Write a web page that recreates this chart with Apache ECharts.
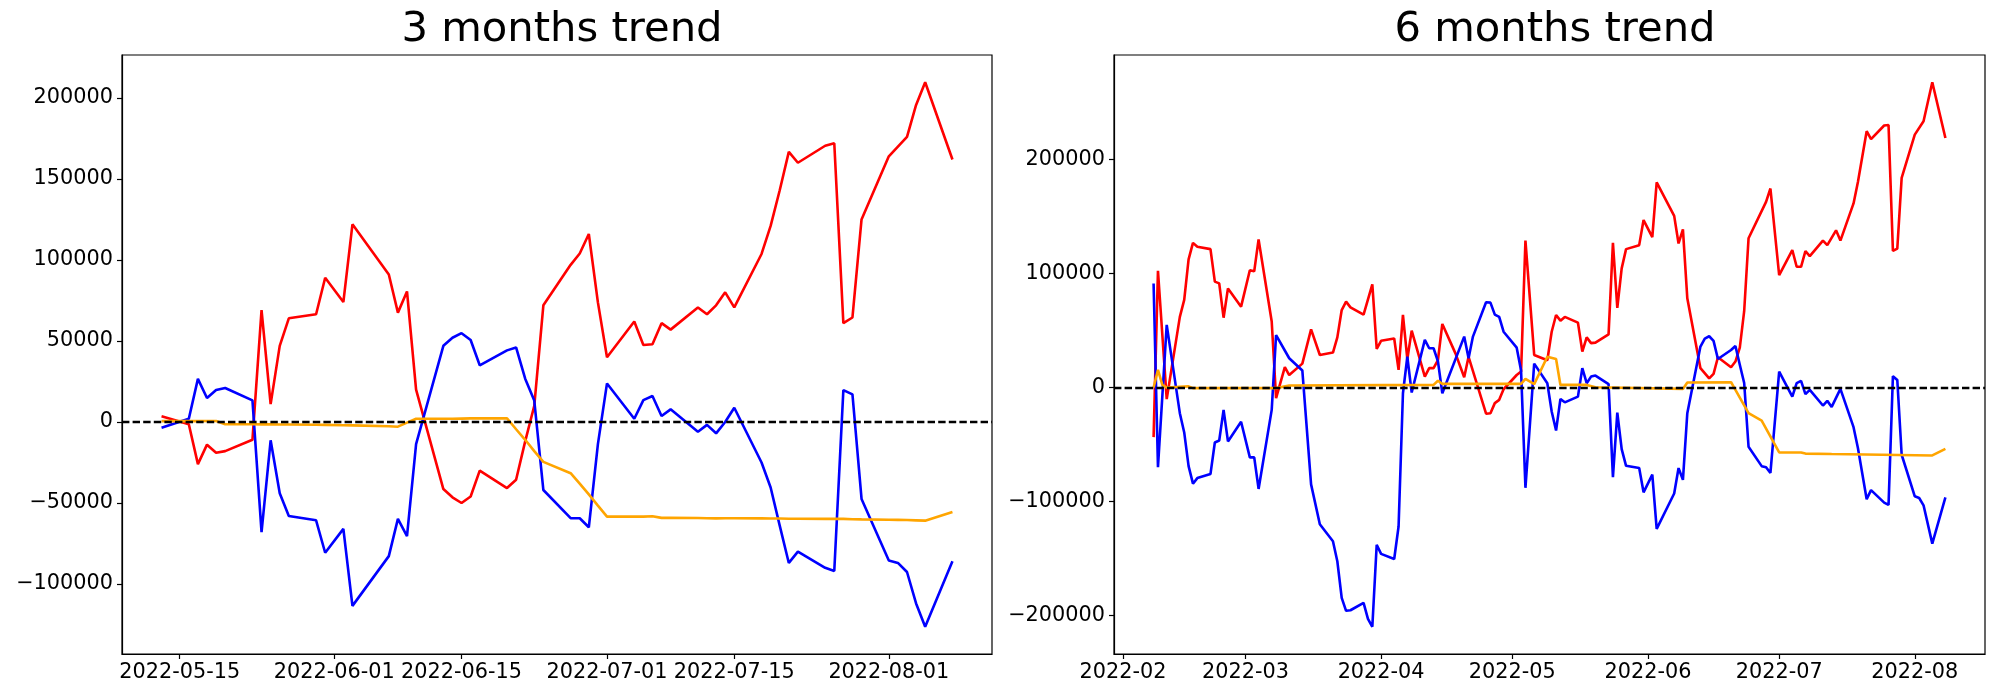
<!DOCTYPE html>
<html>
<head>
<meta charset="utf-8">
<script src="https://cdn.jsdelivr.net/npm/echarts@6/dist/echarts.min.js"></script>
<style>
html,body{margin:0;padding:0;background:#fff;}
#chart{width:2000px;height:700px;}
</style>
</head>
<body>
<div id="chart"></div>
<script>
// ---------- 3 months trend ----------
const dates3 = ['2022-05-13','2022-05-16','2022-05-17','2022-05-18','2022-05-19','2022-05-20','2022-05-23','2022-05-24','2022-05-25','2022-05-26','2022-05-27','2022-05-30','2022-05-31',
'2022-06-02','2022-06-03','2022-06-07','2022-06-08','2022-06-09','2022-06-10','2022-06-13','2022-06-14','2022-06-15','2022-06-16','2022-06-17','2022-06-20','2022-06-21','2022-06-22','2022-06-23','2022-06-24','2022-06-27','2022-06-28','2022-06-29','2022-06-30',
'2022-07-01','2022-07-04','2022-07-05','2022-07-06','2022-07-07','2022-07-08','2022-07-11','2022-07-12','2022-07-13','2022-07-14','2022-07-15','2022-07-18','2022-07-19','2022-07-20','2022-07-21','2022-07-22','2022-07-25','2022-07-26','2022-07-27','2022-07-28','2022-07-29',
'2022-08-01','2022-08-02','2022-08-03','2022-08-04','2022-08-05','2022-08-08'];
const red3 = [3500,-1400,-26000,-14000,-19000,-18000,-11000,69000,11000,47000,64000,66500,89000,
74000,122000,91000,67500,80600,20000,-41400,-46500,-50000,-46000,-30000,-40800,-35700,-12000,10000,72000,97000,104000,116000,73800,
40000,62000,47500,48000,61000,57000,70700,66500,72000,80000,70700,103700,121000,143000,166700,160000,170500,172000,61000,64500,125000,
164000,170000,176000,195700,209700,162000];
const blue3 = [-3500,2000,26600,14800,19700,21000,13300,-68000,-11300,-44000,-58000,-60700,-80700,
-66000,-113500,-82800,-59800,-70500,-13700,47000,52000,54800,50600,35000,44200,46000,26700,13200,-42000,-59400,-59400,-65000,-13700,
23800,2000,13500,16000,3700,7800,-6000,-1800,-7000,0,8800,-25000,-40400,-64000,-87000,-80000,-90000,-92000,19700,17000,-47500,
-85500,-87000,-92600,-112000,-126400,-86000];
const orange3 = [500,500,500,600,600,-1400,-1400,-1500,-1500,-1600,-1600,-1700,-1800,
-2000,-2100,-2600,-2900,-400,2000,2000,2000,2100,2200,2200,2300,-4500,-11000,-18000,-24600,-31600,-38000,-44700,-51600,
-58400,-58400,-58400,-58200,-59200,-59200,-59300,-59400,-59500,-59400,-59400,-59500,-59600,-59600,-59700,-59700,-59800,-59800,-59800,-60000,-60100,
-60300,-60400,-60500,-60700,-60900,-55500];
const xTicks3 = ['2022-05-15','2022-06-01','2022-06-15','2022-07-01','2022-07-15','2022-08-01'];
const xTickLabels3 = ['2022-05-15','2022-06-01','2022-06-15','2022-07-01','2022-07-15','2022-08-01'];
const yTicks3 = [-100000,-50000,0,50000,100000,150000,200000];

// ---------- 6 months trend ----------
const red6Dates = ['2022-02-08','2022-02-09','2022-02-11','2022-02-14','2022-02-15','2022-02-16','2022-02-17','2022-02-18','2022-02-21','2022-02-22','2022-02-23','2022-02-24','2022-02-25','2022-02-28',
'2022-03-02','2022-03-03','2022-03-04','2022-03-07','2022-03-08','2022-03-10','2022-03-11','2022-03-14','2022-03-16','2022-03-18','2022-03-21','2022-03-22','2022-03-23','2022-03-24','2022-03-25','2022-03-28','2022-03-30','2022-03-31',
'2022-04-01','2022-04-04','2022-04-05','2022-04-06','2022-04-07','2022-04-08','2022-04-11','2022-04-12','2022-04-13','2022-04-14','2022-04-15','2022-04-18','2022-04-20','2022-04-21','2022-04-25','2022-04-26','2022-04-27','2022-04-28','2022-04-29',
'2022-05-02','2022-05-03','2022-05-04','2022-05-06','2022-05-09','2022-05-10','2022-05-11','2022-05-12','2022-05-13','2022-05-16','2022-05-17','2022-05-18','2022-05-19','2022-05-20','2022-05-23','2022-05-24','2022-05-25','2022-05-26','2022-05-27','2022-05-30','2022-05-31',
'2022-06-02','2022-06-03','2022-06-07','2022-06-08','2022-06-09','2022-06-10','2022-06-13','2022-06-15','2022-06-16','2022-06-17','2022-06-20','2022-06-21','2022-06-22','2022-06-23','2022-06-24','2022-06-28','2022-06-29',
'2022-07-01','2022-07-04','2022-07-05','2022-07-06','2022-07-07','2022-07-08','2022-07-11','2022-07-12','2022-07-14','2022-07-15','2022-07-18','2022-07-19','2022-07-21','2022-07-22','2022-07-25','2022-07-26','2022-07-27','2022-07-28','2022-07-29',
'2022-08-01','2022-08-03','2022-08-05','2022-08-08'];
const red6 = [-43500,102500,-10200,62000,77000,112500,127000,123600,121500,93000,91400,61300,87000,71000,
103000,102000,130000,58000,-9300,18000,11000,21000,51000,28600,30700,44000,68000,75400,70400,64000,90600,34000,
41000,43000,15500,63700,25000,50000,9600,17000,17000,24000,55800,30000,9000,27000,-23000,-22500,-13700,-10800,-1500,
11000,14000,129000,28600,24000,49000,63700,58700,62000,57000,31600,44000,39000,39400,46700,127000,70000,104600,121500,125000,147000,
132000,180000,150700,126500,138800,78300,17000,8000,12000,26600,17800,22800,35000,67000,131000,163000,174700,
98700,120700,106000,106000,119800,115400,129000,125000,138000,129000,161600,180500,225000,218000,230000,230500,120000,122000,184000,
222000,233700,268000,219000];

const blue6Dates = ['2022-02-08','2022-02-09','2022-02-11','2022-02-14','2022-02-15','2022-02-16','2022-02-17','2022-02-18','2022-02-21','2022-02-22','2022-02-23','2022-02-24','2022-02-25','2022-02-28',
'2022-03-02','2022-03-03','2022-03-04','2022-03-07','2022-03-08','2022-03-11','2022-03-14','2022-03-16','2022-03-18','2022-03-21','2022-03-22','2022-03-23','2022-03-24','2022-03-25','2022-03-28','2022-03-29','2022-03-30','2022-03-31',
'2022-04-01','2022-04-04','2022-04-05','2022-04-06','2022-04-07','2022-04-08','2022-04-11','2022-04-12','2022-04-13','2022-04-14','2022-04-15','2022-04-20','2022-04-21','2022-04-22','2022-04-25','2022-04-26','2022-04-27','2022-04-28','2022-04-29',
'2022-05-02','2022-05-03','2022-05-04','2022-05-06','2022-05-09','2022-05-10','2022-05-11','2022-05-12','2022-05-13','2022-05-16','2022-05-17','2022-05-18','2022-05-19','2022-05-20','2022-05-23','2022-05-24','2022-05-25','2022-05-26','2022-05-27','2022-05-30','2022-05-31',
'2022-06-02','2022-06-03','2022-06-07','2022-06-08','2022-06-09','2022-06-10','2022-06-13','2022-06-14','2022-06-15','2022-06-16','2022-06-17','2022-06-20','2022-06-21','2022-06-22','2022-06-23','2022-06-24','2022-06-27','2022-06-28','2022-06-29',
'2022-07-01','2022-07-04','2022-07-05','2022-07-06','2022-07-07','2022-07-08','2022-07-11','2022-07-12','2022-07-13','2022-07-15','2022-07-18','2022-07-19','2022-07-21','2022-07-22','2022-07-25','2022-07-26','2022-07-27','2022-07-28','2022-07-29',
'2022-08-01','2022-08-02','2022-08-03','2022-08-05','2022-08-08'];
const blue6 = [91400,-70000,55000,-22500,-39400,-69000,-84400,-79500,-76000,-48200,-46500,-19600,-47300,-30000,
-61300,-61300,-89000,-19600,46000,25700,15000,-85000,-120000,-135000,-152500,-184600,-196000,-195500,-189000,-203000,-210000,-138000,
-146000,-150500,-122000,-5000,27000,-4400,41800,34500,34500,23000,-5000,44700,25700,44700,74800,74500,64000,62000,49000,
35000,15000,-88000,21000,3800,-21000,-37700,-10000,-13000,-8000,17000,3800,9600,10500,3000,-78600,-22000,-54000,-68700,-70700,-92000,
-76500,-124000,-93000,-70700,-81000,-22500,36000,43000,45000,41000,25000,33000,36500,20000,4000,-52000,-69000,-70000,-75000,
14000,-8000,3800,5800,-5800,-2000,-15800,-11700,-17000,-1200,-34800,-53000,-98000,-90000,-101000,-103000,10000,6700,-59000,
-95500,-97000,-103400,-137000,-96400];

const orange6Dates = ['2022-02-08','2022-02-09','2022-02-10','2022-02-11','2022-02-16','2022-02-17','2022-03-08','2022-03-11','2022-04-13','2022-04-14','2022-04-15','2022-05-03','2022-05-04','2022-05-06','2022-05-09','2022-05-11','2022-05-12','2022-05-18','2022-05-20','2022-06-09','2022-06-10','2022-06-20','2022-06-24','2022-06-27','2022-07-01','2022-07-06','2022-07-07','2022-07-13','2022-08-05','2022-08-08'];
const orange6 = [0,15500,2300,0,1000,-500,-500,1800,2300,6000,3200,3200,7600,3000,27000,25000,2300,2300,300,-1200,4400,4700,-22500,-29000,-57000,-57000,-58000,-58400,-59600,-53800];

const xTicks6 = ['2022-02-01','2022-03-01','2022-04-01','2022-05-01','2022-06-01','2022-07-01','2022-08-01'];
const xTickLabels6 = ['2022-02','2022-03','2022-04','2022-05','2022-06','2022-07','2022-08'];
const yTicks6 = [-200000,-100000,0,100000,200000];

// ---------- helpers ----------
function ts(s){ const p = s.split('-').map(Number); return Date.UTC(p[0], p[1]-1, p[2]); }
function pairs(ds, vs){ return ds.map((d,i)=>[ts(d), vs[i]]); }
function padRange(lo, hi){ const m = (hi-lo)*0.05; return [lo-m, hi+m]; }
function fmtY(v){ return (v<0 ? '\u2212' : '') + Math.abs(Math.round(v)); }
function tickFmt(ticks, labels){
  const t = ticks.map(ts);
  return function(v){
    let best = 0, bd = Infinity;
    t.forEach((x,i)=>{ const d = Math.abs(x - v); if(d<bd){bd=d;best=i;} });
    return bd < 86400000 ? labels[best] : '';
  };
}

const FONT = 'DejaVu Sans';
const x3 = padRange(ts(dates3[0]), ts(dates3[dates3.length-1]));
const y3 = padRange(Math.min(...red3, ...blue3, ...orange3), Math.max(...red3, ...blue3, ...orange3));
const allDates6 = red6Dates.concat(blue6Dates, orange6Dates).map(ts);
const x6 = padRange(Math.min(...allDates6), Math.max(...allDates6));
const y6 = padRange(Math.min(...red6, ...blue6, ...orange6), Math.max(...red6, ...blue6, ...orange6));

function xAxisCfg(gi, range, ticks, labels){
  return {
    type:'value', gridIndex:gi, min:range[0], max:range[1], scale:true,
    axisLine:{show:true, onZero:false, lineStyle:{color:'#000', width:1.2}},
    axisTick:{show:true, length:5, lineStyle:{color:'#000', width:1.2}, customValues: ticks.map(ts)},
    axisLabel:{show:true, customValues: ticks.map(ts), formatter: tickFmt(ticks, labels),
      color:'#000', fontSize:20.8, fontFamily:FONT, margin:8, hideOverlap:false, showMinLabel:true, showMaxLabel:true},
    splitLine:{show:false}
  };
}
function yAxisCfg(gi, range, ticks){
  return {
    type:'value', gridIndex:gi, min:range[0], max:range[1], scale:true,
    axisLine:{show:true, onZero:false, lineStyle:{color:'#000', width:1.2}},
    axisTick:{show:true, length:5, lineStyle:{color:'#000', width:1.2}, customValues: ticks},
    axisLabel:{show:true, customValues: ticks, formatter: fmtY,
      color:'#000', fontSize:20.8, fontFamily:FONT, margin:9, showMinLabel:true, showMaxLabel:true},
    splitLine:{show:false}
  };
}
function lineSeries(data, color, xi, withZero){
  const s = {
    type:'line', data:data, xAxisIndex:xi, yAxisIndex:xi, showSymbol:false, symbol:'none',
    lineStyle:{color:color, width:2.6}, itemStyle:{color:color}, silent:true
  };
  if(withZero){
    s.markLine = {
      silent:true, symbol:['none','none'], label:{show:false},
      lineStyle:{color:'#000', type:[7.4,3.2], width:2.3},
      data:[{yAxis:0}]
    };
  }
  return s;
}

const chart = echarts.init(document.getElementById('chart'), null, {renderer:'canvas'});
chart.setOption({
  animation:false,
  backgroundColor:'#fff',
  textStyle:{fontFamily:FONT},
  title:[
    {text:'3 months trend', left:557, top:4, textAlign:'center',
     textStyle:{fontSize:41.7, fontWeight:'normal', color:'#000', fontFamily:FONT}},
    {text:'6 months trend', left:1550, top:4, textAlign:'center',
     textStyle:{fontSize:41.7, fontWeight:'normal', color:'#000', fontFamily:FONT}}
  ],
  grid:[
    {left:122, right:1008, top:55, bottom:46, show:true, borderColor:'#000', borderWidth:1.2, backgroundColor:'transparent', containLabel:false},
    {left:1114, right:15, top:55, bottom:46, show:true, borderColor:'#000', borderWidth:1.2, backgroundColor:'transparent', containLabel:false}
  ],
  xAxis:[ xAxisCfg(0, x3, xTicks3, xTickLabels3), xAxisCfg(1, x6, xTicks6, xTickLabels6) ],
  yAxis:[ yAxisCfg(0, y3, yTicks3), yAxisCfg(1, y6, yTicks6) ],
  series:[
    lineSeries(pairs(dates3, red3), '#ff0000', 0, false),
    lineSeries(pairs(dates3, blue3), '#0000ff', 0, false),
    lineSeries(pairs(dates3, orange3), '#ffa500', 0, true),
    lineSeries(pairs(red6Dates, red6), '#ff0000', 1, false),
    lineSeries(pairs(blue6Dates, blue6), '#0000ff', 1, false),
    lineSeries(pairs(orange6Dates, orange6), '#ffa500', 1, true)
  ]
});
</script>
</body>
</html>
